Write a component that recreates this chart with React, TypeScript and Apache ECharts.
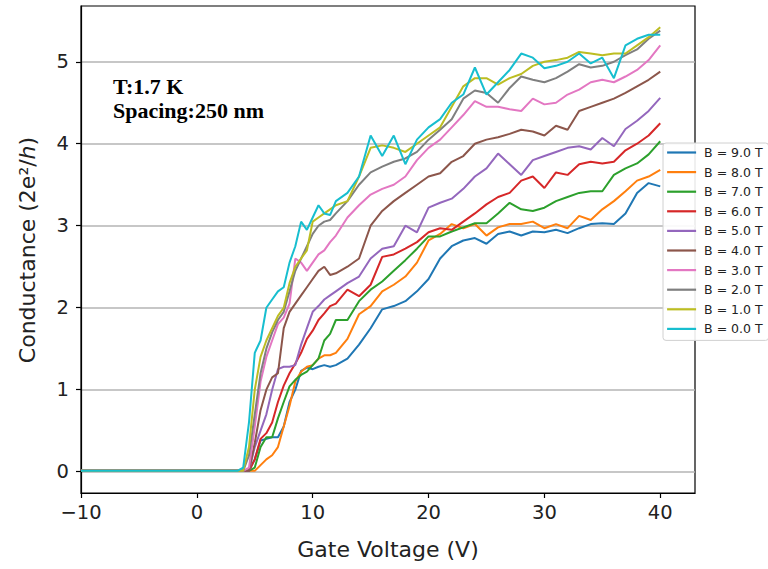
import React, { useEffect, useRef } from "react";
import * as echarts from "echarts";

const gateVoltage = [
  -10, 3.5, 4, 4.5, 5, 5.5, 6, 6.5, 7, 7.5, 8, 8.5, 9, 9.5, 10, 10.5, 11, 11.5, 12,
  13, 14, 15, 16, 17, 18, 19, 20, 21, 22, 23, 24, 25, 26, 27, 28, 29, 30, 31, 32, 33,
  34, 35, 36, 37, 38, 39, 40,
];

const fieldLabels = [
  "B = 9.0 T", "B = 8.0 T", "B = 7.0 T", "B = 6.0 T", "B = 5.0 T",
  "B = 4.0 T", "B = 3.0 T", "B = 2.0 T", "B = 1.0 T", "B = 0.0 T",
];

const lineColors = [
  "#1f77b4", "#ff7f0e", "#2ca02c", "#d62728", "#9467bd",
  "#8c564b", "#e377c2", "#7f7f7f", "#bcbd22", "#17becf",
];

const b9 = [0.01, 0.01,
  0.01, 0.01, 0.15, 0.38, 0.4, 0.42, 0.42, 0.55, 0.85, 1.0, 1.23, 1.27, 1.25, 1.28, 1.3, 1.28, 1.3,
  1.38, 1.55, 1.75, 1.98, 2.02, 2.08, 2.2, 2.35, 2.6, 2.75, 2.82, 2.85, 2.78, 2.9, 2.93, 2.88, 2.93, 2.92, 2.95, 2.91, 2.97, 3.02, 3.03, 3.02, 3.15, 3.4, 3.52, 3.48];
const b8 = [0.01, 0.01,
  0.01, 0.01, 0.01, 0.08, 0.15, 0.2, 0.3, 0.55, 0.8, 1.1, 1.22, 1.28, 1.3, 1.38, 1.42, 1.42, 1.45,
  1.62, 1.92, 2.02, 2.2, 2.28, 2.38, 2.55, 2.82, 2.9, 3.02, 2.97, 3.02, 2.88, 2.98, 3.02, 3.02, 3.05, 2.97, 3.02, 2.97, 3.12, 3.07, 3.2, 3.3, 3.42, 3.55, 3.6, 3.68];
const b7 = [0.01, 0.01,
  0.01, 0.01, 0.05, 0.3, 0.42, 0.42, 0.65, 0.85, 1.04, 1.12, 1.18, 1.22, 1.3, 1.38, 1.6, 1.68, 1.85,
  1.85, 2.08, 2.22, 2.32, 2.45, 2.58, 2.72, 2.87, 2.87, 2.93, 2.98, 3.03, 3.03, 3.15, 3.28, 3.2, 3.18, 3.22, 3.3, 3.35, 3.4, 3.42, 3.42, 3.62, 3.7, 3.76, 3.87, 4.03];
const b6 = [0.01, 0.01,
  0.01, 0.01, 0.15, 0.4, 0.47, 0.6, 0.85, 1.05, 1.2, 1.32, 1.45, 1.62, 1.72, 1.85, 1.93, 2.02, 2.05,
  2.22, 2.14, 2.28, 2.62, 2.65, 2.72, 2.8, 2.92, 2.97, 2.95, 3.05, 3.15, 3.26, 3.35, 3.4, 3.55, 3.6, 3.46, 3.65, 3.62, 3.75, 3.78, 3.76, 3.78, 3.92, 4.0, 4.1, 4.25];
const b5 = [0.01, 0.01,
  0.01, 0.01, 0.3, 0.5, 0.7, 1.0, 1.25, 1.28, 1.28, 1.3, 1.55, 1.75, 1.95, 2.02, 2.1, 2.15, 2.2,
  2.3, 2.38, 2.6, 2.72, 2.75, 3.0, 2.92, 3.22, 3.28, 3.33, 3.45, 3.6, 3.7, 3.88, 3.75, 3.62, 3.8, 3.85, 3.9, 3.95, 3.97, 3.93, 4.07, 3.97, 4.18, 4.28, 4.4, 4.56];
const b4 = [0.01, 0.01,
  0.01, 0.01, 0.35, 0.75, 1.0, 1.15, 1.2, 1.75, 1.95, 2.05, 2.15, 2.25, 2.35, 2.45, 2.5, 2.4, 2.42,
  2.5, 2.6, 3.0, 3.18, 3.3, 3.4, 3.5, 3.6, 3.64, 3.78, 3.85, 4.0, 4.05, 4.08, 4.12, 4.17, 4.15, 4.1, 4.22, 4.17, 4.4, 4.45, 4.5, 4.55, 4.62, 4.7, 4.78, 4.88];
const b3 = [0.01, 0.01,
  0.01, 0.05, 0.55, 1.1, 1.4, 1.6, 1.8, 1.88, 2.05, 2.6, 2.55, 2.45, 2.55, 2.65, 2.7, 2.8, 2.88,
  3.1, 3.25, 3.38, 3.45, 3.5, 3.6, 3.8, 3.95, 4.05, 4.2, 4.35, 4.52, 4.45, 4.45, 4.42, 4.4, 4.55, 4.48, 4.5, 4.6, 4.66, 4.75, 4.78, 4.75, 4.82, 4.9, 5.02, 5.2];
const b2 = [0.01, 0.01,
  0.01, 0.2, 0.7, 1.2, 1.5, 1.7, 1.85, 1.95, 2.2, 2.45, 2.6, 2.75, 2.9, 3.0, 3.05, 3.07, 3.15,
  3.3, 3.5, 3.65, 3.72, 3.78, 3.82, 3.9, 4.05, 4.17, 4.3, 4.55, 4.65, 4.62, 4.5, 4.68, 4.82, 4.78, 4.75, 4.8, 4.88, 4.97, 4.93, 4.95, 5.0, 5.08, 5.15, 5.28, 5.38];
const b1 = [0.01, 0.01,
  0.01, 0.3, 1.0, 1.4, 1.6, 1.75, 1.9, 2.0, 2.3, 2.5, 2.6, 2.7, 3.05, 3.1, 3.15, 3.2, 3.25,
  3.3, 3.6, 3.95, 3.98, 3.95, 3.9, 4.0, 4.1, 4.2, 4.45, 4.7, 4.8, 4.8, 4.72, 4.8, 4.85, 4.95, 5.0, 5.02, 5.05, 5.12, 5.1, 5.08, 5.1, 5.1, 5.2, 5.3, 5.42];
const b0 = [0.01, 0.01,
  0.05, 0.6, 1.45, 1.6, 2.0, 2.1, 2.2, 2.25, 2.55, 2.75, 3.05, 2.95, 3.1, 3.25, 3.15, 3.13, 3.3,
  3.4, 3.6, 4.1, 3.85, 4.1, 3.75, 4.05, 4.2, 4.3, 4.5, 4.6, 4.93, 4.6, 4.75, 4.9, 5.1, 5.05, 4.92, 4.95, 5.0, 5.1, 4.98, 5.05, 4.8, 5.2, 5.28, 5.33, 5.33];

const conductance = [b9, b8, b7, b6, b5, b4, b3, b2, b1, b0];

const xTicks = [-10, 0, 10, 20, 30, 40];
const yTicks = [0, 1, 2, 3, 4, 5];

const FONT = "DejaVu Sans";

export default function App() {
  const ref = useRef<HTMLDivElement>(null);

  useEffect(() => {
    const chart = echarts.init(ref.current!, null, { renderer: "svg" });
    const series = conductance.map((vals, i) => ({
      name: fieldLabels[i],
      type: "line",
      data: gateVoltage.map((x, j) => [x, vals[j]]),
      showSymbol: false,
      symbol: "none",
      lineStyle: { width: 2, color: lineColors[i] },
      itemStyle: { color: lineColors[i] },
      z: 3,
    }));

    chart.setOption({
      animation: false,
      backgroundColor: "#ffffff",
      grid: {
        left: 81,
        top: 6,
        right: 73,
        bottom: 76,
        show: true,
        borderColor: "#000",
        borderWidth: 1.2,
        backgroundColor: "transparent",
      },
      xAxis: {
        type: "value",
        min: -10,
        max: 43,
        axisLine: { show: true, onZero: false, lineStyle: { color: "#000", width: 1.2 } },
        axisTick: {
          show: true,
          inside: false,
          length: 5,
          lineStyle: { color: "#000", width: 1.2 },
          customValues: xTicks,
        },
        axisLabel: {
          customValues: xTicks,
          formatter: (v: number) => (v < 0 ? "\u2212" + Math.abs(v) : String(v)),
          fontSize: 19.5,
          fontFamily: FONT,
          color: "#222",
          margin: 9,
        },
        splitLine: { show: false },
      },
      yAxis: {
        type: "value",
        min: -0.26,
        max: 5.68,
        axisLine: { show: true, onZero: false, lineStyle: { color: "#000", width: 1.2 } },
        axisTick: {
          show: true,
          inside: false,
          length: 5,
          lineStyle: { color: "#000", width: 1.2 },
          customValues: yTicks,
        },
        axisLabel: {
          customValues: yTicks,
          fontSize: 19.5,
          fontFamily: FONT,
          color: "#222",
          margin: 12,
        },
        splitLine: { show: true, lineStyle: { color: "#b4b4b4", width: 1.5 } },
      },
      legend: {
        orient: "vertical",
        left: 663,
        top: 143,
        itemWidth: 29,
        itemHeight: 14,
        itemGap: 6.6,
        padding: [3, 6, 5, 3],
        backgroundColor: "rgba(255,255,255,0.9)",
        borderColor: "#d0d0d0",
        borderWidth: 1,
        borderRadius: 3,
        itemStyle: { opacity: 0 },
        lineStyle: { width: 2.2 },
        textStyle: { fontSize: 12.5, fontFamily: FONT, color: "#222", padding: [0, 0, 0, 3] },
        data: fieldLabels,
      },
      graphic: [
        {
          type: "text",
          x: 113,
          y: 86,
          style: {
            text: "T:1.7 K",
            fontSize: 22,
            fontWeight: "bold",
            fontFamily: "Liberation Serif",
            fill: "#000",
            verticalAlign: "middle",
          },
        },
        {
          type: "text",
          x: 113,
          y: 110,
          style: {
            text: "Spacing:250 nm",
            fontSize: 22,
            fontWeight: "bold",
            fontFamily: "Liberation Serif",
            fill: "#000",
            verticalAlign: "middle",
          },
        },
        {
          type: "text",
          x: 388,
          y: 549,
          style: {
            text: "Gate Voltage (V)",
            fontSize: 22,
            fontFamily: FONT,
            fill: "#222",
            align: "center",
            verticalAlign: "middle",
          },
        },
        {
          type: "text",
          x: 27,
          y: 250,
          rotation: Math.PI / 2,
          style: {
            text: "{n|Conductance (2e\u00b2/}{i|h}{n|)}",
            align: "center",
            verticalAlign: "middle",
            rich: {
              n: { fontSize: 22, fontFamily: FONT, fill: "#222", color: "#222" },
              i: { fontSize: 22, fontFamily: FONT, fontStyle: "italic", fill: "#222", color: "#222" },
            },
          },
        },
      ],
      series,
    });
    return () => chart.dispose();
  }, []);

  return (
    <div
      ref={ref}
      style={{ position: "fixed", left: 0, top: 0, width: 768, height: 569, background: "#fff" }}
    />
  );
}
